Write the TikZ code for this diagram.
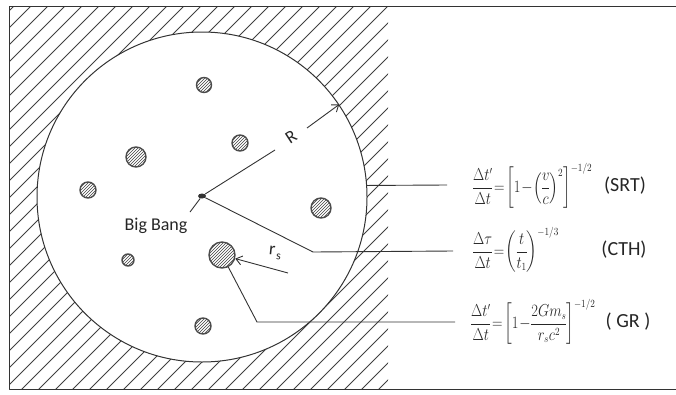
\documentclass[tikz,border=0pt]{standalone}
\usepackage{amsmath}
\usepackage{fontspec}
\setsansfont{Carlito}
\usetikzlibrary{arrows.meta,patterns,shapes.geometric}
\newcommand{\narrow}[1]{\scalebox{0.84}[1]{\medmuskip=1mu\thickmuskip=2mu\nulldelimiterspace=0pt#1}}
\begin{document}
\begin{tikzpicture}[x=1pt,y=-1pt,line join=round,
  ink/.style={draw=black!80,line width=0.9pt},
  hatch/.style={draw=black!75,line width=0.75pt},
  galaxy/.style={circle,draw=black!70,line width=1.4pt,pattern=north east lines,pattern color=black!75,inner sep=0pt},
  eqn/.style={anchor=west,inner sep=0pt,text=black!85,font=\fontsize{16}{18}\selectfont},
  tag/.style={inner sep=0pt,text=black!85,font=\sffamily\fontsize{20}{22}\selectfont},
  lbl/.style={inner sep=0pt,text=black!85,font=\sffamily\fontsize{18}{20}\selectfont},
  barb/.style={-{Straight Barb[length=6pt,width=9pt]}}
]
\useasboundingbox (0,0) rectangle (676,394);
% hatched region outside the universe
\begin{scope}[even odd rule]
  \clip (9,6) rectangle (388,389) (202,197) circle[radius=165pt];
  \foreach \c in {-425,-408,...,425} \draw[hatch] (\c,394) -- ++(420,-420);
\end{scope}
% frame
\draw[ink] (676,6) -- (9,6) -- (9,389) -- (676,389);
% universe
\node[circle,draw=black!80,line width=1pt,minimum size=330pt,inner sep=0pt] (univ) at (202,197) {};
% galaxies
\node[galaxy,minimum size=15pt] (g1) at (204,85) {};
\node[galaxy,minimum size=16pt] (g2) at (240,143) {};
\node[galaxy,minimum size=20pt] (g3) at (136,157) {};
\node[galaxy,minimum size=16pt] (g4) at (88,190) {};
\node[galaxy,minimum size=20pt] (g5) at (321,208) {};
\node[galaxy,minimum size=12pt] (g6) at (128,260) {};
\node[galaxy,minimum size=26pt] (g7) at (222,255) {};
\node[galaxy,minimum size=16pt] (g8) at (203,326) {};
% big bang
\node[ellipse,fill=black!80,minimum width=8pt,minimum height=5pt,inner sep=0pt] (bb) at (202,196) {};
\node[lbl] (bbl) at (156,226) {Big Bang};
\coordinate (bbp) at (190,212);
\draw[ink] (bb) -- (bbp);
% radius R
\coordinate (rend) at (275,150);
\coordinate (ra) at (307,128);
\draw[ink] (bb) -- (rend);
\node[lbl,rotate=33] (rlab) at (291,137) {R};
\draw[ink,barb] (ra) -- (univ.34);
% r_s
\coordinate (rs0) at (288,273);
\draw[ink,barb] (rs0) -- (g7);
\node[lbl,rotate=-6] (rsl) at (275,253) {r\kern1.5pt\raisebox{-0.4ex}{\fontsize{12}{14}\selectfont s}};
% equations
\node[eqn] (srt) at (473,186) {\narrow{$\dfrac{\Delta t'}{\Delta t}=\left[1-\left(\dfrac{v}{c}\right)^{2}\right]^{-1/2}$}};
\node[eqn] (cth) at (473,250) {\narrow{$\dfrac{\Delta\tau}{\Delta t}=\left(\dfrac{t}{t_1}\right)^{-1/3}$}};
\node[eqn] (gr) at (471,322) {\narrow{$\dfrac{\Delta t'}{\Delta t}=\left[1-\dfrac{2Gm_s}{r_s c^2}\right]^{-1/2}$}};
\node[tag] (srtt) at (625,186) {(SRT)};
\node[tag] (ctht) at (624,250) {(CTH)};
\node[tag] (grt) at (628,322) {( GR )};
% connectors
\coordinate (srtL) at (447,185);
\coordinate (cthK) at (313,252);
\coordinate (cthL) at (453,251);
\coordinate (grK) at (257,322);
\coordinate (grL) at (455,322);
\draw[ink] (univ.4) -- (srtL);
\draw[ink] (bb) -- (cthK) -- (cthL);
\draw[ink] (g7) -- (grK) -- (grL);
\end{tikzpicture}
\end{document}
